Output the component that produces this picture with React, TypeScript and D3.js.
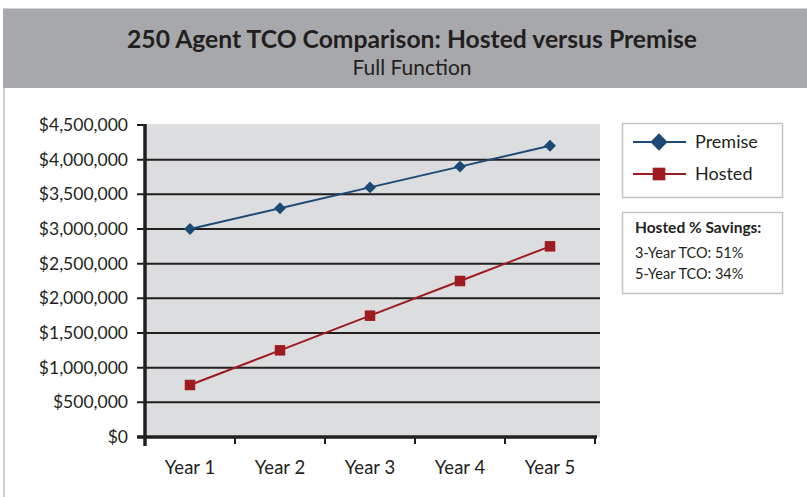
import { useEffect, useRef } from 'react'
import * as d3 from 'd3'

const years = ['Year 1', 'Year 2', 'Year 3', 'Year 4', 'Year 5']
const premise = [3000000, 3300000, 3600000, 3900000, 4200000]
const hosted = [750000, 1250000, 1750000, 2250000, 2750000]
const yTicks = [0, 500000, 1000000, 1500000, 2000000, 2500000, 3000000, 3500000, 4000000, 4500000]
const savings = ['3-Year TCO: 51%', '5-Year TCO: 34%']

const W = 807
const H = 497
const FONT = 'Lato, "Open Sans", sans-serif'
const BLUE = '#1d4a75'
const RED = '#9e1b20'

export default function App() {
  const svgRef = useRef<SVGSVGElement>(null)

  useEffect(() => {
    if (!svgRef.current) return
    const svg = d3.select(svgRef.current)
    svg.selectAll('*').remove()

    const left = 145, right = 595, top = 125, bottom = 437

    // frame + header
    svg.append('rect').attr('x', 4).attr('y', 9).attr('width', W).attr('height', H)
      .attr('fill', 'white').attr('stroke', '#d0d0d0').attr('stroke-width', 2)
    svg.append('rect').attr('x', 3).attr('y', 9).attr('width', W - 3).attr('height', 79)
      .attr('fill', '#a7a8ab')
    svg.append('text').attr('x', 412).attr('y', 48).attr('text-anchor', 'middle')
      .attr('font-family', FONT).attr('font-weight', 'bold').attr('font-size', 24)
      .attr('textLength', 570).attr('lengthAdjust', 'spacingAndGlyphs')
      .attr('fill', '#231f20').text('250 Agent TCO Comparison: Hosted versus Premise')
    svg.append('text').attr('x', 412).attr('y', 75).attr('text-anchor', 'middle')
      .attr('font-family', FONT).attr('font-size', 21)
      .attr('fill', '#231f20').text('Full Function')

    const x = d3.scaleBand().domain(years).range([left, right])
    const y = d3.scaleLinear().domain([0, 4500000]).range([bottom, top])

    // plot background
    svg.append('rect').attr('x', left).attr('y', top - 1).attr('width', right - left + 5)
      .attr('height', bottom - top + 1).attr('fill', '#dcdddf')

    // gridlines
    const grid = svg.append('g')
    grid.selectAll('line').data(yTicks.slice(1)).enter().append('line')
      .attr('x1', left - 8).attr('x2', d => (d === 4500000 ? left : right + 5))
      .attr('y1', d => y(d)).attr('y2', d => y(d))
      .attr('stroke', '#231f20').attr('stroke-width', 2)

    // y labels
    svg.append('g').selectAll('text').data(yTicks).enter().append('text')
      .attr('x', 128).attr('y', d => y(d)).attr('dy', '0.35em')
      .attr('text-anchor', 'end').attr('font-family', FONT).attr('font-size', 17.5)
      .attr('fill', '#231f20').text(d => d3.format('$,')(d))

    // axes
    svg.append('line').attr('x1', left).attr('x2', left).attr('y1', top - 1).attr('y2', bottom + 9)
      .attr('stroke', '#231f20').attr('stroke-width', 3.5)
    svg.append('line').attr('x1', left - 8).attr('x2', right + 2).attr('y1', bottom).attr('y2', bottom)
      .attr('stroke', '#231f20').attr('stroke-width', 3.5)
    const xt = years.map(d => (x(d) as number) + x.bandwidth())
    svg.append('g').selectAll('line').data(xt).enter().append('line')
      .attr('x1', d => d).attr('x2', d => d).attr('y1', bottom).attr('y2', bottom + 7)
      .attr('stroke', '#231f20').attr('stroke-width', 2)
    svg.append('g').selectAll('text').data(years).enter().append('text')
      .attr('x', d => (x(d) as number) + x.bandwidth() / 2).attr('y', 474)
      .attr('text-anchor', 'middle').attr('font-family', FONT).attr('font-size', 18.5)
      .attr('fill', '#231f20').text(d => d)

    const cx = (i: number) => (x(years[i]) as number) + x.bandwidth() / 2
    const line = d3.line<number>().x((_, i) => cx(i)).y(d => y(d))

    const diamond = d3.symbol().type(d3.symbolDiamond2).size(90)
    const square = d3.symbol().type(d3.symbolSquare).size(110)

    svg.append('path').datum(premise).attr('d', line).attr('fill', 'none')
      .attr('stroke', BLUE).attr('stroke-width', 2)
    svg.append('g').selectAll('path').data(premise).enter().append('path')
      .attr('d', diamond()).attr('transform', (d, i) => `translate(${cx(i)},${y(d)})`)
      .attr('fill', BLUE)

    svg.append('path').datum(hosted).attr('d', line).attr('fill', 'none')
      .attr('stroke', RED).attr('stroke-width', 2)
    svg.append('g').selectAll('path').data(hosted).enter().append('path')
      .attr('d', square()).attr('transform', (d, i) => `translate(${cx(i)},${y(d)})`)
      .attr('fill', RED)

    // legend
    svg.append('rect').attr('x', 622.5).attr('y', 123.5).attr('width', 160).attr('height', 74)
      .attr('fill', 'white').attr('stroke', '#c4c4c4').attr('stroke-width', 1.5)
    const leg = [
      { name: 'Premise', color: BLUE, sym: d3.symbol().type(d3.symbolDiamond2).size(190), ly: 142 },
      { name: 'Hosted', color: RED, sym: d3.symbol().type(d3.symbolSquare).size(160), ly: 174 },
    ]
    leg.forEach(l => {
      svg.append('line').attr('x1', 633).attr('x2', 686).attr('y1', l.ly).attr('y2', l.ly)
        .attr('stroke', l.color).attr('stroke-width', 2)
      svg.append('path').attr('d', l.sym())
        .attr('transform', `translate(659,${l.ly})`).attr('fill', l.color)
      svg.append('text').attr('x', 695).attr('y', l.ly).attr('dy', '0.35em')
        .attr('font-family', FONT).attr('font-size', 18).attr('fill', '#231f20').text(l.name)
    })

    // savings box
    svg.append('rect').attr('x', 622.5).attr('y', 212.5).attr('width', 160).attr('height', 81)
      .attr('fill', 'white').attr('stroke', '#c4c4c4').attr('stroke-width', 1.5)
    svg.append('text').attr('x', 635).attr('y', 233).attr('font-family', FONT)
      .attr('font-weight', 'bold').attr('font-size', 15.5).attr('fill', '#231f20')
      .text('Hosted % Savings:')
    svg.append('g').selectAll('text').data(savings).enter().append('text')
      .attr('x', 635).attr('y', (_, i) => 258 + i * 21).attr('font-family', FONT)
      .attr('font-size', 14.5).attr('fill', '#231f20').text(d => d)
  }, [])

  return (
    <svg
      ref={svgRef}
      width={W}
      height={H}
      style={{ position: 'absolute', left: 0, top: 0, background: 'white' }}
    />
  )
}
